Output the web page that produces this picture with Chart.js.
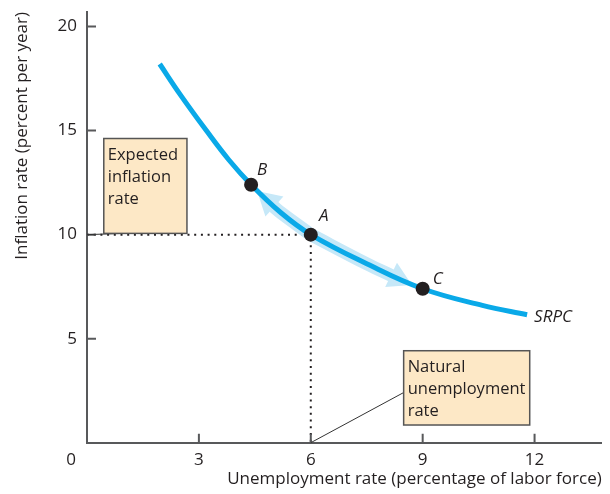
<!DOCTYPE html>
<html>
<head>
<meta charset="utf-8">
<script src="https://cdn.jsdelivr.net/npm/chart.js@4"></script>
<style>
  html, body { margin: 0; padding: 0; background: #fff; }
  canvas { display: block; }
</style>
</head>
<body>
<canvas id="grafico" width="610" height="494"></canvas>
<script>
// short-run Phillips curve
var curveX = [1.95, 2.5, 3.2, 3.8, 4.4, 5.2, 6, 7.5, 9, 10.6, 11.8];
var curveY = [18.2, 16.73, 15.0, 13.6, 12.4, 11.05, 10, 8.6, 7.4, 6.6, 6.15];

var pointLabels = ['B', 'A', 'C'];
var pointX = [4.4, 6, 9];
var pointY = [12.4, 10, 7.4];

var xTicks = [3, 6, 9, 12];
var yTicks = [5, 10, 15, 20];

// movements along the curve: A -> B and A -> C
var bandUpX = [6, 5.2, 5.0];
var bandUpY = [10, 11.05, 11.35];
var bandDownX = [6, 7.5, 8.2];
var bandDownY = [10, 8.6, 8.0];
var arrowX = [4.87, 8.34];
var arrowY = [11.6, 7.9];
var arrowTurn = [-48, 116];

var FONT = '"Open Sans"';
var INK = '#231f20';
var AXIS = '#58595b';
var BLUE = '#0aa9e8';
var PALE = '#c6e8f8';
var PEACH = '#fde8c6';

function xy(xs, ys) {
    return xs.map(function (x, i) { return { x: x, y: ys[i] }; });
}

var notes = [
    { lines: ['Expected', 'inflation', 'rate'], box: [0.45, 14.62, 2.68, 10.06], from: [0.99, 10.06], to: [0, 10] },
    { lines: ['Natural', 'unemployment', 'rate'], box: [8.49, 4.42, 11.87, 0.85], from: [8.49, 2.41], to: [6, 0] }
];

var extras = {
    id: 'extras',
    afterDraw: function (chart) {
        var ctx = chart.ctx;
        var sx = chart.scales.x, sy = chart.scales.y;
        var area = chart.chartArea;
        ctx.save();

        // inward tick marks
        ctx.strokeStyle = AXIS;
        ctx.lineWidth = 2;
        ctx.beginPath();
        xTicks.forEach(function (v) {
            var p = sx.getPixelForValue(v);
            ctx.moveTo(p, area.bottom);
            ctx.lineTo(p, area.bottom - 9);
        });
        yTicks.forEach(function (v) {
            var p = sy.getPixelForValue(v);
            ctx.moveTo(area.left, p);
            ctx.lineTo(area.left + 9, p);
        });
        ctx.stroke();

        // shared origin label
        ctx.fillStyle = INK;
        ctx.font = '17px ' + FONT;
        ctx.textAlign = 'center';
        ctx.textBaseline = 'middle';
        ctx.fillText('0', area.left - 16, area.bottom + 17);

        // note boxes with leader lines
        notes.forEach(function (n) {
            var l = sx.getPixelForValue(n.box[0]), t = sy.getPixelForValue(n.box[1]);
            var r = sx.getPixelForValue(n.box[2]), b = sy.getPixelForValue(n.box[3]);
            ctx.strokeStyle = '#333';
            ctx.lineWidth = 1;
            ctx.beginPath();
            ctx.moveTo(sx.getPixelForValue(n.from[0]), sy.getPixelForValue(n.from[1]));
            ctx.lineTo(sx.getPixelForValue(n.to[0]), sy.getPixelForValue(n.to[1]));
            ctx.stroke();
            ctx.fillStyle = PEACH;
            ctx.fillRect(l, t, r - l, b - t);
            ctx.strokeStyle = '#555';
            ctx.lineWidth = 1.5;
            ctx.strokeRect(l, t, r - l, b - t);
            ctx.fillStyle = INK;
            ctx.font = '16.5px ' + FONT;
            ctx.textAlign = 'left';
            ctx.textBaseline = 'alphabetic';
            n.lines.forEach(function (s, i) {
                ctx.fillText(s, l + 4, t + 21 + i * 22);
            });
        });

        // point and curve labels
        ctx.font = 'italic 17px ' + FONT;
        ctx.textAlign = 'center';
        ctx.textBaseline = 'middle';
        var offs = [[11, -15], [13, -18], [15, -10]];
        pointLabels.forEach(function (s, i) {
            ctx.fillText(s, sx.getPixelForValue(pointX[i]) + offs[i][0], sy.getPixelForValue(pointY[i]) + offs[i][1]);
        });
        ctx.textAlign = 'left';
        ctx.fillText('SRPC', sx.getPixelForValue(curveX[curveX.length - 1]) + 7, sy.getPixelForValue(curveY[curveY.length - 1]) + 2);
        ctx.restore();
    }
};

var data = {
    datasets: [{
        label: 'Points',
        data: xy(pointX, pointY),
        pointRadius: 7,
        pointBackgroundColor: INK,
        pointBorderWidth: 0,
        showLine: false
    },
    {
        label: 'SRPC',
        data: xy(curveX, curveY),
        showLine: true,
        borderColor: BLUE,
        borderWidth: 5,
        pointRadius: 0,
        tension: 0.4
    },
    {
        label: 'Arrow heads',
        data: xy(arrowX, arrowY),
        showLine: false,
        pointStyle: 'triangle',
        pointRadius: 15.5,
        pointRotation: arrowTurn,
        pointBackgroundColor: PALE,
        pointBorderWidth: 0
    },
    {
        label: 'Up',
        data: xy(bandUpX, bandUpY),
        showLine: true,
        borderColor: PALE,
        borderWidth: 13,
        pointRadius: 0,
        tension: 0.4
    },
    {
        label: 'Down',
        data: xy(bandDownX, bandDownY),
        showLine: true,
        borderColor: PALE,
        borderWidth: 13,
        pointRadius: 0,
        tension: 0.4
    },
    {
        label: 'Guides',
        data: xy([0, pointX[1], pointX[1]], [pointY[1], pointY[1], 0]),
        showLine: true,
        borderColor: INK,
        borderWidth: 2,
        borderDash: [2, 4.7],
        pointRadius: 0
    }]
};

var options = {
    responsive: false,
    animation: false,
    layout: { autoPadding: false, padding: { left: 0, right: 8.3, top: 12, bottom: 0 } },
    plugins: { legend: { display: false }, tooltip: { enabled: false } },
    scales: {
        x: {
            type: 'linear',
            min: 0,
            max: 13.8,
            afterFit: function (s) { s.height = 51.3; s.paddingLeft = 0; s.paddingRight = 0; },
            afterBuildTicks: function (s) { s.ticks = xTicks.map(function (v) { return { value: v }; }); },
            grid: { display: false, drawTicks: false },
            border: { display: true, color: AXIS, width: 2 },
            ticks: { padding: 7, color: INK, font: { family: FONT, size: 17 } },
            title: {
                display: true,
                text: 'Unemployment rate (percentage of labor force)',
                align: 'end',
                color: INK,
                padding: { top: 0, bottom: 5 },
                font: { family: FONT, size: 17 }
            }
        },
        y: {
            type: 'linear',
            min: 0,
            max: 20.7,
            afterFit: function (s) { s.width = 87; s.paddingTop = 0; s.paddingBottom = 0; },
            afterBuildTicks: function (s) { s.ticks = yTicks.map(function (v) { return { value: v }; }); },
            grid: { display: false, drawTicks: false },
            border: { display: true, color: AXIS, width: 2 },
            ticks: { padding: 10, color: INK, font: { family: FONT, size: 17 } },
            title: {
                display: true,
                text: 'Inflation rate (percent per year)',
                align: 'end',
                color: INK,
                padding: { top: 12, bottom: 0 },
                font: { family: FONT, size: 17 }
            }
        }
    }
};

var ctx = document.querySelector('#grafico').getContext('2d');
var chart = new Chart(ctx, {
    type: 'scatter',
    data: data,
    options: options,
    plugins: [extras]
});
</script>
</body>
</html>
